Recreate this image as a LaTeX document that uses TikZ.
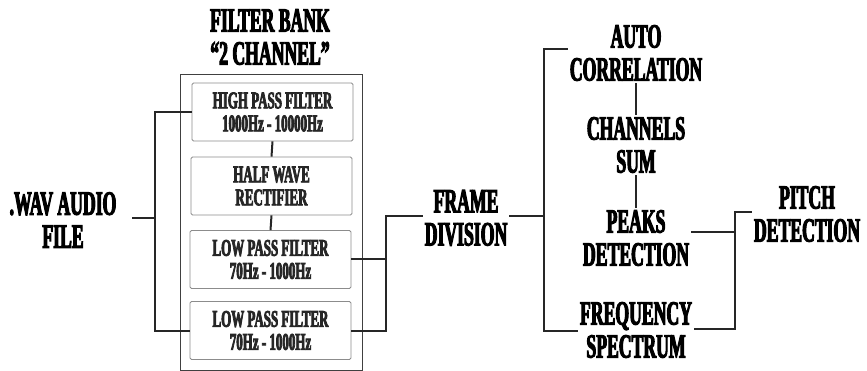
\documentclass[tikz,border=0pt]{standalone}
\usepackage{fontspec}
\newfontfamily\bigf[FakeStretch=0.52,FakeBold=3]{Liberation Serif}
\newfontfamily\boxf[FakeStretch=0.54,FakeBold=3]{Liberation Serif}
\begin{document}
\begin{tikzpicture}[x=1pt,y=-1pt,
  bigtxt/.style={align=center,inner sep=2pt,font=\bigf\bfseries\fontsize{34}{33}\selectfont},
  fbox/.style={draw=black!45,line width=0.8pt,rounded corners=1.5pt,fill=white,
    minimum width=161pt,minimum height=58pt,align=center,inner sep=0pt,
    font=\boxf\bfseries\fontsize{24}{23}\selectfont,text=black!85},
  conn/.style={line width=2pt,black!85}]
\useasboundingbox (0,0) rectangle (867,371);
% outer filter bank frame
\draw[black!75,line width=0.9pt] (180,74) rectangle (362,370);
\node[bigtxt] (title) at (270,37) {FILTER BANK\\“2 CHANNEL”};
\node[fbox] (b1) at (272.5,112) {HIGH PASS FILTER\\1000Hz - 10000Hz};
\node[fbox] (b2) at (271.5,186) {HALF WAVE\\RECTIFIER};
\node[fbox] (b3) at (270.5,259.5) {LOW PASS FILTER\\70Hz - 1000Hz};
\node[fbox] (b4) at (270.5,330.5) {LOW PASS FILTER\\70Hz - 1000Hz};
\node[bigtxt] (wav) at (63,220) {.WAV AUDIO\\FILE};
\node[bigtxt] (frame) at (466,218) {FRAME\\DIVISION};
\node[bigtxt] (auto) at (636,53) {AUTO\\CORRELATION};
\node[bigtxt] (chsum) at (636,145) {CHANNELS\\SUM};
\node[bigtxt] (peaks) at (636,238) {PEAKS\\DETECTION};
\node[bigtxt] (freq) at (636,330) {FREQUENCY\\SPECTRUM};
\node[bigtxt] (pitch) at (807,214) {PITCH\\DETECTION};
% junction points
\coordinate (wavend) at (132,218);
\coordinate (jL) at (155,218);
\coordinate (jR) at (386,216);
\coordinate (jF) at (544,216);
\coordinate (jP) at (735,232);
% connectors
\draw[conn] (wavend) -- (jL);
\draw[conn] (b1.west) -| (jL) |- (b4.west);
\draw[conn] (b1.south) -- (b2.north);
\draw[conn] (b2.south) -- (b3.north);
\draw[conn] (b3.east) -- (b3.east -| jR);
\draw[conn] (b4.east) -| (jR) -- (frame.west |- jR);
\draw[conn] (frame.east |- jF) -- (jF);
\draw[conn] (auto.west |- 0,49) -| (jF) |- (freq.west |- 0,331);
\draw[conn] (auto.south) -- (chsum.north);
\draw[conn] (chsum.south) -- (peaks.north);
\draw[conn] (peaks.east |- jP) -- (jP);
\draw[conn] (pitch.west |- 0,212) -| (jP) |- (freq.east |- 0,329);
\end{tikzpicture}
\end{document}
